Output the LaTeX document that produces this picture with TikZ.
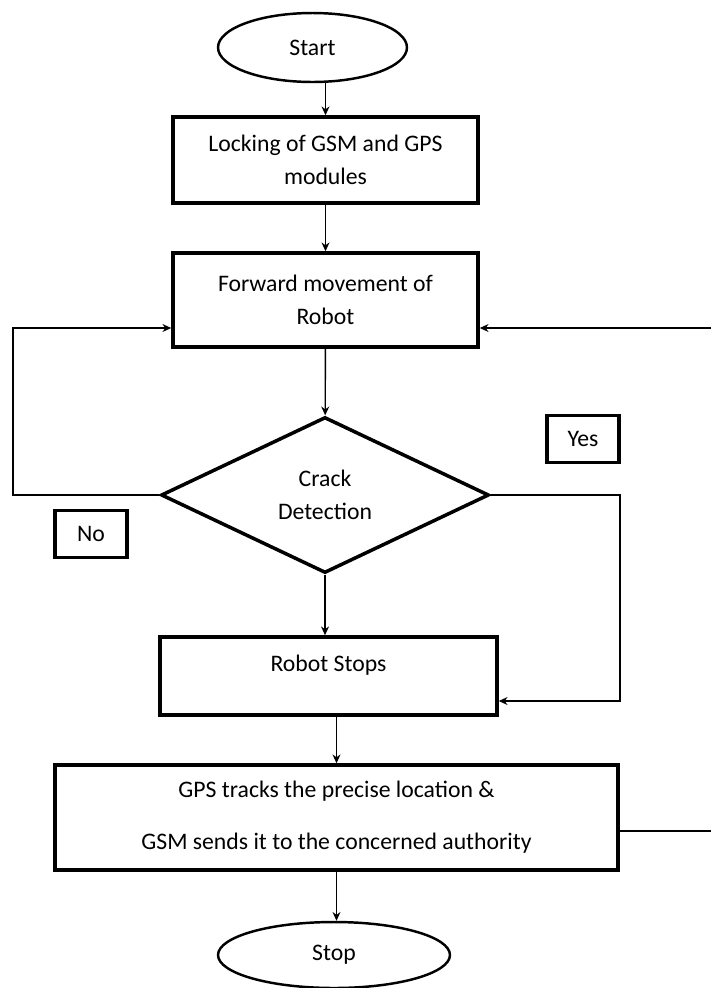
\documentclass[tikz,border=0pt]{standalone}
\usepackage{fontspec}
\setmainfont{Carlito}
\usetikzlibrary{shapes.geometric,arrows.meta}

\begin{document}
\begin{tikzpicture}[
	x = 0.02cm, y = -0.02cm,
	font = \fontsize{13.5}{18.7}\selectfont,
	terminal/.style = {
		shape=ellipse, draw, line width=1.4pt, inner sep=0pt},
	process/.style = {
		shape=rectangle, draw, line width=2pt,
		align=center, inner sep=0pt},
	decision/.style = {
		shape=diamond, draw, line width=2pt,
		align=center, inner sep=0pt},
	tag/.style = {
		shape=rectangle, draw, line width=2pt,
		minimum width=1.44cm, minimum height=0.94cm},
	flow/.style = {
		-{Stealth[length=5pt,width=4.5pt]}, line width=0.8pt}]

	\useasboundingbox (0,0) rectangle (711,988);

	\node[terminal, minimum width=3.78cm, minimum height=1.38cm] (start) at (312.5,47.5) {Start};
	\node[process, minimum width=6.1cm, minimum height=1.72cm] (lock) at (325.5,160)
		{Locking of GSM and GPS\\modules};
	\node[process, minimum width=6.1cm, minimum height=1.88cm] (move) at (325.5,300)
		{Forward movement of\\Robot};
	\node[decision, minimum width=6.56cm, minimum height=3.12cm] (crack) at (325,495)
		{Crack\\Detection};
	\node[process, minimum width=6.74cm, minimum height=1.56cm, text depth=0.5cm] (stops) at (328.5,676)
		{Robot Stops};
	\node[process, minimum width=11.26cm, minimum height=2.1cm] (gps) at (336.5,817.5)
		{GPS tracks the precise location \&\\[11pt]GSM sends it to the concerned authority};
	\node[terminal, minimum width=4.64cm, minimum height=1.32cm] (stop) at (334,955) {Stop};

	\node[tag] (yes) at (583,439) {Yes};
	\node[tag] (no) at (91,534) {No};

	\coordinate (nocorner) at (13,328);
	\coordinate (yescorner) at (620,701);
	\coordinate (edgetop) at (711,328);
	\coordinate (edgebot) at (711,831);

	\draw[flow] (lock.north |- start.south) -- (lock.north);
	\draw[flow] (lock) -- (move);
	\draw[flow] (move) -- (crack);
	\draw[flow] (crack.south) -- (crack.south |- stops.north);
	\draw[flow] (gps.north |- stops.south) -- (gps.north);
	\draw[flow] (gps.south) -- (gps.south |- stop.north);

	\draw[flow] (crack.west) -| (nocorner) -- (nocorner -| move.west);
	\draw[flow] (crack.east) -| (yescorner) -- (yescorner -| stops.east);
	\draw[line width=0.8pt] (gps.east |- edgebot) -- (edgebot);
	\draw[flow] (edgetop) -- (edgetop -| move.east);
\end{tikzpicture}
\end{document}
